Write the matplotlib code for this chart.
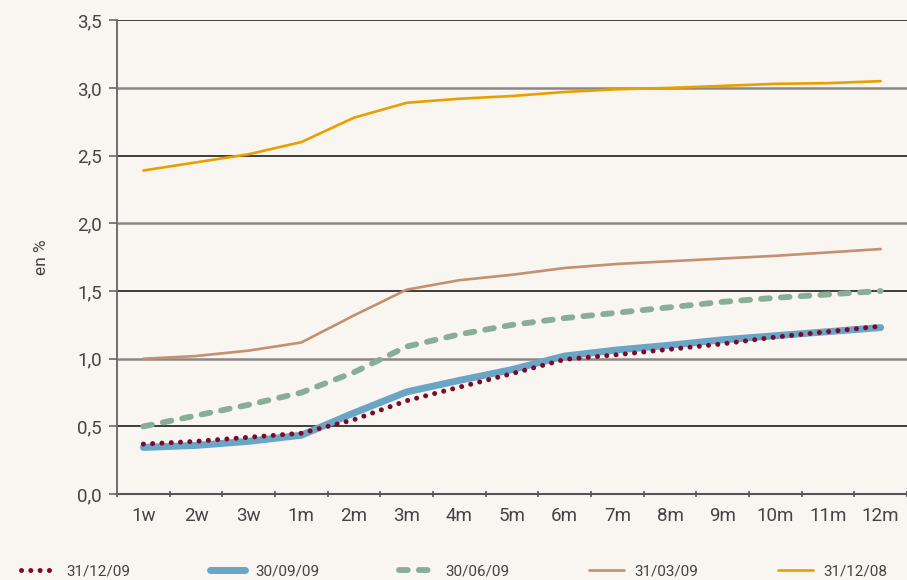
import matplotlib
matplotlib.use("Agg")
import matplotlib.pyplot as plt
import numpy as np

plt.rcParams['font.family'] = ['Roboto', 'DejaVu Sans']

# Maturities on the x axis
maturities = ["1w", "2w", "3w", "1m", "2m", "3m", "4m", "5m", "6m",
              "7m", "8m", "9m", "10m", "11m", "12m"]

# Yield curves (en %) at each reporting date
curve_311209 = [0.37, 0.39, 0.42, 0.45, 0.55, 0.69, 0.79, 0.89, 0.995,
                1.03, 1.07, 1.11, 1.16, 1.20, 1.24]
curve_300909 = [0.345, 0.36, 0.39, 0.435, 0.60, 0.755, 0.84, 0.92, 1.02,
                1.065, 1.10, 1.14, 1.17, 1.20, 1.23]
curve_300609 = [0.50, 0.58, 0.66, 0.75, 0.90, 1.09, 1.18, 1.25, 1.30,
                1.34, 1.38, 1.42, 1.45, 1.475, 1.50]
curve_310309 = [1.00, 1.02, 1.06, 1.12, 1.32, 1.51, 1.58, 1.62, 1.67,
                1.70, 1.72, 1.74, 1.76, 1.785, 1.81]
curve_311208 = [2.39, 2.45, 2.51, 2.60, 2.78, 2.89, 2.92, 2.94, 2.97,
                2.99, 3.00, 3.015, 3.03, 3.035, 3.05]

series_labels = ["31/12/09", "30/09/09", "30/06/09", "31/03/09", "31/12/08"]

y_ticks = [0.0, 0.5, 1.0, 1.5, 2.0, 2.5, 3.0, 3.5]
y_tick_labels = ["0,0", "0,5", "1,0", "1,5", "2,0", "2,5", "3,0", "3,5"]

bg = "#f9f6f2"
fig = plt.figure(figsize=(9.07, 5.80), dpi=100, facecolor=bg)
ax = fig.add_axes([0.129, 0.148, 0.871, 0.8172], facecolor=bg)

x = np.arange(len(maturities))

# grid lines: half-units dark, whole units grey
for yv in y_ticks[1:]:
    if abs(yv - round(yv)) > 1e-9:
        ax.axhline(yv, color="#1e1e1e", lw=1.2, zorder=1)
    else:
        ax.axhline(yv, color="#8a8785", lw=1.8, zorder=1)

l5, = ax.plot(x, curve_311208, color="#e8a000", lw=1.9, solid_capstyle="round",
              zorder=3, label=series_labels[4])
l4, = ax.plot(x, curve_310309, color="#c4906f", lw=1.9, solid_capstyle="round",
              zorder=3, label=series_labels[3])
l3, = ax.plot(x, curve_300609, color="#88ae98", lw=4.2, dashes=(1.5, 1.9),
              dash_capstyle="round", zorder=4, label=series_labels[2])
l2, = ax.plot(x, curve_300909, color="#6aa5c6", lw=5.0, solid_capstyle="round",
              zorder=5, label=series_labels[1])
l1, = ax.plot(x, curve_311209, color="#7d0a2c", lw=3.6, dashes=(0.01, 1.85),
              dash_capstyle="round", zorder=6, label=series_labels[0])

ax.set_xlim(-0.5, len(maturities) - 0.5)
ax.set_ylim(0, 3.5)

ax.set_yticks(y_ticks)
ax.set_yticklabels(y_tick_labels)
ax.tick_params(axis="y", length=6, width=1.2, color="#666666", pad=5,
               labelsize=13.5, labelcolor="#444444")

# category labels centred, tick marks on boundaries
ax.set_xticks(np.arange(len(maturities) + 1) - 0.5)
ax.set_xticklabels([])
ax.set_xticks(x, minor=True)
ax.set_xticklabels(maturities, minor=True)
ax.tick_params(axis="x", which="major", length=5, width=1.2, color="#555555",
               direction="inout")
ax.tick_params(axis="x", which="minor", length=0, pad=9, labelsize=13.5,
               labelcolor="#444444")

for s in ["top", "right"]:
    ax.spines[s].set_visible(False)
ax.spines["left"].set_color("#6e6e6e")
ax.spines["left"].set_linewidth(1.4)
ax.spines["bottom"].set_color("#555555")
ax.spines["bottom"].set_linewidth(1.5)
ax.spines["bottom"].set_zorder(2)

ax.set_ylabel("en %", fontsize=12.5, color="#444444", labelpad=20)

fig.legend(handles=[l1, l2, l3, l4, l5], labels=series_labels,
           loc="lower left", bbox_to_anchor=(0.016, -0.008), ncol=5,
           frameon=False, fontsize=11, labelcolor="#444444",
           handlelength=2.3, handletextpad=0.7, columnspacing=5.2,
           borderaxespad=0)

fig.savefig("out.png", dpi=100, facecolor=bg)
